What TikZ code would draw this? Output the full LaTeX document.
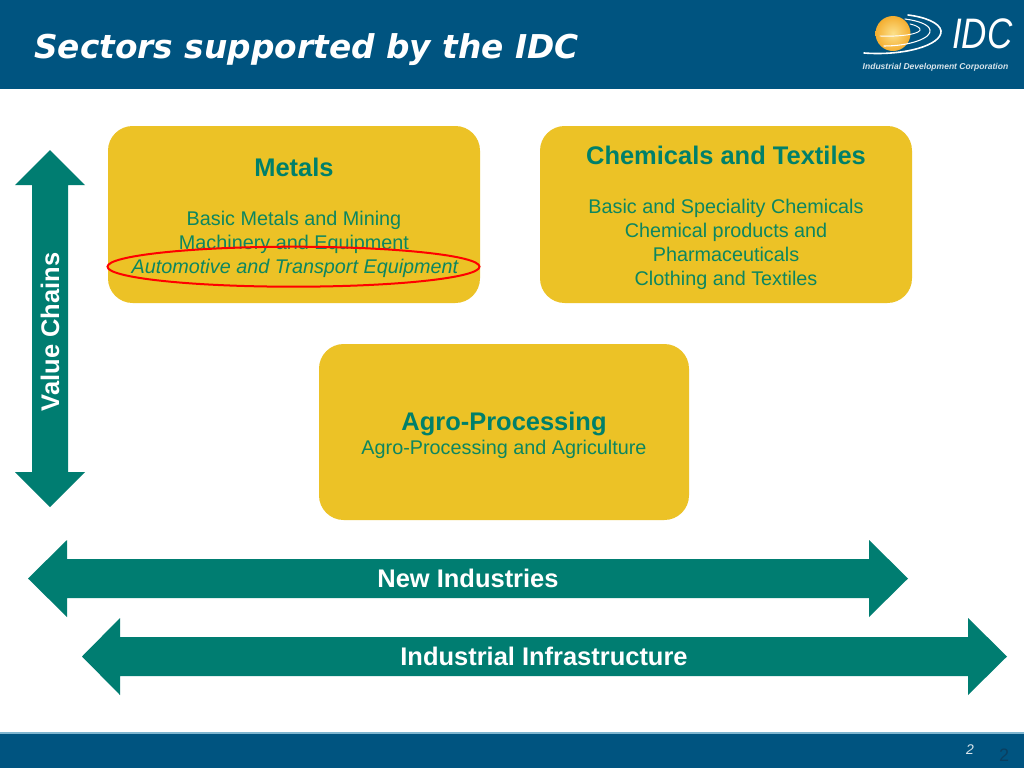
\documentclass[tikz,border=0pt]{standalone}
\usepackage{fontspec}
\setmainfont{Liberation Sans}
\newfontfamily\titlefont{DejaVu Sans}
\definecolor{bandblue}{HTML}{005480}
\definecolor{tealarrow}{HTML}{007D71}
\definecolor{boxyellow}{HTML}{ECC226}
\definecolor{greentext}{HTML}{00806A}
\definecolor{bodygreen}{HTML}{0C8660}
\definecolor{sunorange}{HTML}{F4AE30}
\definecolor{sunlight}{HTML}{FCE08A}
\definecolor{pagedark}{HTML}{0B3F60}
\definecolor{bandline}{HTML}{7FB6D0}
\newcommand{\pxfont}[1]{\fontsize{#1}{#1}\selectfont}
\tikzset{
  x=0.75pt,y=-0.75pt,
  sectorbox/.style={fill=boxyellow,rounded corners=18.5pt},
  arrowshape/.style={fill=tealarrow},
  heading/.style={text=greentext,font=\bfseries\pxfont{19.1},anchor=base,inner sep=0pt},
  bodytext/.style={text=bodygreen,font=\pxfont{14.85},anchor=base,inner sep=0pt},
  arrowtext/.style={text=white,font=\bfseries\pxfont{19.1},anchor=base,inner sep=0pt},
  logoline/.style={draw=white,line cap=round},
}
\begin{document}
\begin{tikzpicture}
\useasboundingbox (0,0) rectangle (1024,768);
\fill[white] (0,0) rectangle (1024,768);
% bands
\fill[bandblue] (0,0) rectangle (1024,89);
\fill[bandblue] (0,733) rectangle (1024,768);
\fill[bandline] (0,732) rectangle (1024,734);
\node[text=white,font=\titlefont\bfseries\itshape\pxfont{24.6},anchor=base west,inner sep=0pt] (title) at (34,58) {Sectors supported by the IDC};
% logo
\shade[inner color=sunlight,outer color=sunorange] (893,33.5) circle (17.5);
\draw[logoline,line width=1.2pt] (864,53) .. controls (905,56) and (942,45) .. (941,31) .. controls (940,23) and (925,17) .. (908,15);
\draw[logoline,line width=0.8pt] (884,46) .. controls (910,46) and (932,38) .. (930,30) .. controls (929,25) and (920,21) .. (905,19);
\draw[logoline,line width=0.7pt] (880,36) .. controls (905,37) and (922,33) .. (920,29) .. controls (919,27) and (915,25) .. (910,24);
\node[text=white,font=\itshape\pxfont{32},anchor=base west,inner sep=0pt,xscale=0.82] (idc) at (952,48) {IDC};
\node[text=white!85!bandblue,font=\bfseries\itshape\pxfont{6.4},anchor=center,inner sep=0pt] (corp) at (935.5,67.5) {Industrial Development Corporation};
% boxes
\fill[sectorbox] (108,126) rectangle (480,303);
\fill[sectorbox] (540,126) rectangle (912,303);
\fill[sectorbox] (319,344) rectangle (689,520);
% metals
\node[heading] (metals) at (294,176) {Metals};
\node[bodytext] (m1) at (294,225) {Basic Metals and Mining};
\node[bodytext] (m2) at (294,249) {Machinery and Equipment};
\node[bodytext,font=\itshape\pxfont{14.85}] (m3) at (295,273) {Automotive and Transport Equipment};
\draw[red,line width=1.5pt] (293.5,266.7) ellipse [x radius=186, y radius=20];
% chemicals
\node[heading] (chem) at (726,164) {Chemicals and Textiles};
\node[bodytext] (c1) at (726,213) {Basic and Speciality Chemicals};
\node[bodytext] (c2) at (726,237) {Chemical products and};
\node[bodytext] (c3) at (726,261) {Pharmaceuticals};
\node[bodytext] (c4) at (726,285) {Clothing and Textiles};
% agro
\node[heading] (agro) at (504,430) {Agro-Processing};
\node[bodytext] (a1) at (504,454) {Agro-Processing and Agriculture};
% arrows
\fill[arrowshape] (50,150) -- (85,185) -- (68,185) -- (68,472) -- (85,472) -- (50,507) -- (15,472) -- (32,472) -- (32,185) -- (15,185) -- cycle;
\fill[arrowshape] (28,578.5) -- (67,540) -- (67,559) -- (869,559) -- (869,540) -- (908,578.5) -- (869,617) -- (869,598) -- (67,598) -- (67,617) -- cycle;
\fill[arrowshape] (82,656.5) -- (120,618) -- (120,637) -- (968,637) -- (968,618) -- (1007,656.5) -- (968,695) -- (968,676) -- (120,676) -- (120,695) -- cycle;
\node[arrowtext,rotate=90] (vc) at (59,332) {Value Chains};
\node[arrowtext] (ni) at (468,587.5) {New Industries};
\node[arrowtext] (ii) at (544,665.5) {Industrial Infrastructure};
% page numbers
\node[text=white!85!bandblue,font=\itshape\pxfont{10.5},anchor=center,inner sep=0pt] (pn) at (970,750) {2};
\node[text=pagedark,font=\pxfont{13.5},anchor=center,inner sep=0pt] (pn2) at (1004,755) {2};
\end{tikzpicture}
\end{document}
